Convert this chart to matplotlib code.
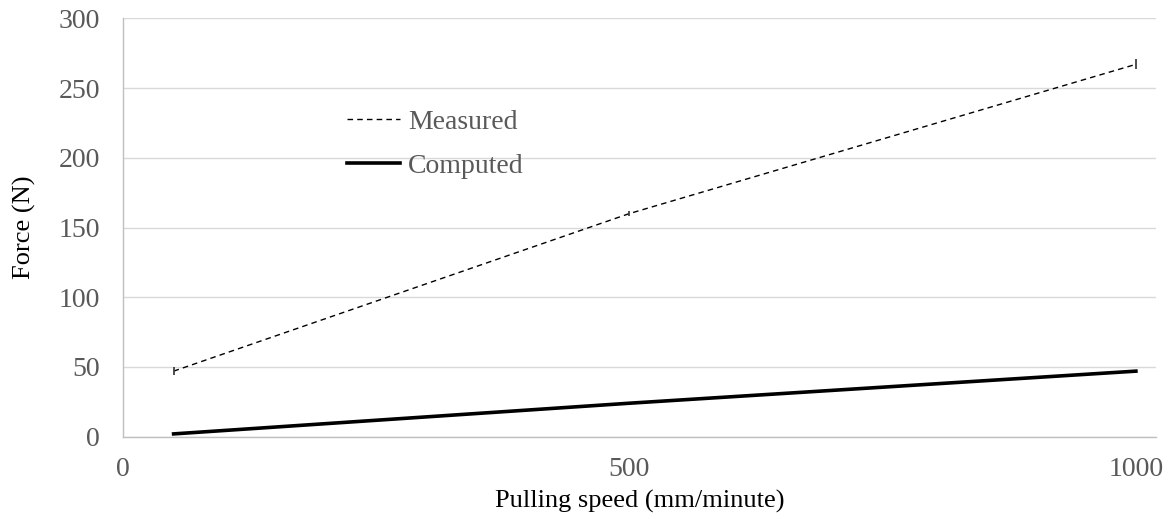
import numpy as np
import matplotlib.pyplot as plt

plt.rcParams['font.family'] = ['Liberation Serif', 'DejaVu Serif']

# pulling speed (mm/minute)
speed = [50, 500, 1000]
# force (N)
measured = [47, 160, 267]
measured_err = [3.0, 2.0, 3.5]
computed = [2, 24, 47]

grey_txt = '#595959'
fs = 20

fig = plt.figure(figsize=(11.69, 5.19), dpi=100)
ax = fig.add_axes([0.1052, 0.1586, 0.8838, 0.8061])

ax.plot(speed, measured, color='black', lw=1.0, ls=(0, (4, 3)), label='Measured', zorder=3)
ax.errorbar(speed, measured, yerr=measured_err, fmt='none', ecolor='#404040',
            elinewidth=1.3, capsize=0, zorder=3)
ax.plot(speed, computed, color='black', lw=2.6, label='Computed', zorder=3)

ax.set_xlim(0, 1020)
ax.set_ylim(0, 300)
ax.set_xticks([0, 500, 1000])
ax.set_yticks(np.arange(0, 301, 50))
ax.grid(axis='y', color='#d9d9d9', lw=1.0)
ax.set_axisbelow(True)

for s in ['top', 'right']:
    ax.spines[s].set_visible(False)
for s in ['left', 'bottom']:
    ax.spines[s].set_color('#bfbfbf')
    ax.spines[s].set_linewidth(1.0)

ax.tick_params(length=0, labelsize=fs, labelcolor=grey_txt)
ax.tick_params(axis='y', pad=16.5)
ax.tick_params(axis='x', pad=14.5)
ax.set_xlabel('Pulling speed (mm/minute)', fontsize=19, labelpad=6)
ax.set_ylabel('Force (N)', fontsize=19, labelpad=16)

ax.legend(loc='center left', bbox_to_anchor=(0.217, 0.699), frameon=False,
          fontsize=fs, labelcolor=grey_txt, borderpad=0, borderaxespad=0,
          handlelength=1.9, handletextpad=0.29, labelspacing=0.68)

fig.savefig('out.png', dpi=100)
